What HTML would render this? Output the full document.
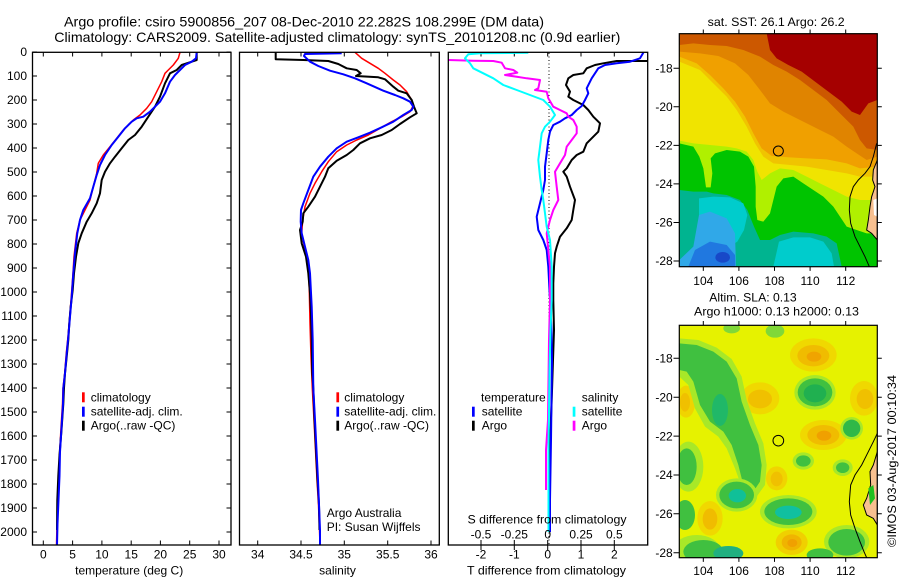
<!DOCTYPE html>
<html><head><meta charset="utf-8"><style>
html,body{margin:0;padding:0;background:#fff;}
svg{display:block;}
text{font-family:"Liberation Sans",Arial,sans-serif;fill:#000;}
</style></head><body>
<svg width="900" height="580" viewBox="0 0 900 580" xmlns="http://www.w3.org/2000/svg">
<rect x="0" y="0" width="900" height="580" fill="#fff"/>
<defs>
<clipPath id="c1"><rect x="58" y="100" width="594" height="700"/></clipPath>
<clipPath id="c2"><rect x="58" y="121" width="594" height="697"/></clipPath>
</defs>

<!-- Titles -->
<text x="64" y="26.5" font-size="14" textLength="480" lengthAdjust="spacingAndGlyphs">Argo profile: csiro 5900856_207 08-Dec-2010 22.282S 108.299E (DM data)</text>
<text x="54.3" y="42" font-size="14" textLength="566" lengthAdjust="spacingAndGlyphs">Climatology: CARS2009. Satellite-adjusted climatology: synTS_20101208.nc (0.9d earlier)</text>

<!-- ============ PANEL 1 ============ -->
<g stroke="#000" stroke-width="1">
<path d="M32.5,52h4.5M32.5,76h4.5M32.5,100h4.5M32.5,124h4.5M32.5,148h4.5M32.5,172h4.5M32.5,196h4.5M32.5,220h4.5M32.5,244h4.5M32.5,268h4.5M32.5,292h4.5M32.5,316h4.5M32.5,340h4.5M32.5,364h4.5M32.5,388h4.5M32.5,412h4.5M32.5,436h4.5M32.5,460h4.5M32.5,484h4.5M32.5,508h4.5M32.5,532h4.5"/>
<path d="M231,52h-4.5M231,76h-4.5M231,100h-4.5M231,124h-4.5M231,148h-4.5M231,172h-4.5M231,196h-4.5M231,220h-4.5M231,244h-4.5M231,268h-4.5M231,292h-4.5M231,316h-4.5M231,340h-4.5M231,364h-4.5M231,388h-4.5M231,412h-4.5M231,436h-4.5M231,460h-4.5M231,484h-4.5M231,508h-4.5M231,532h-4.5"/>
<path d="M43.3,52v4.5M72.6,52v4.5M101.9,52v4.5M131.2,52v4.5M160.4,52v4.5M189.7,52v4.5M219,52v4.5"/>
<path d="M43.3,545v-4.5M72.6,545v-4.5M101.9,545v-4.5M131.2,545v-4.5M160.4,545v-4.5M189.7,545v-4.5M219,545v-4.5"/>
</g>
<g font-size="12" text-anchor="end">
<text x="27" y="56.2">0</text><text x="27" y="80.2">100</text><text x="27" y="104.2">200</text><text x="27" y="128.2">300</text><text x="27" y="152.2">400</text><text x="27" y="176.2">500</text><text x="27" y="200.2">600</text><text x="27" y="224.2">700</text><text x="27" y="248.2">800</text><text x="27" y="272.2">900</text><text x="27" y="296.2">1000</text><text x="27" y="320.2">1100</text><text x="27" y="344.2">1200</text><text x="27" y="368.2">1300</text><text x="27" y="392.2">1400</text><text x="27" y="416.2">1500</text><text x="27" y="440.2">1600</text><text x="27" y="464.2">1700</text><text x="27" y="488.2">1800</text><text x="27" y="512.2">1900</text><text x="27" y="536.2">2000</text>
</g>
<g font-size="12" text-anchor="middle">
<text x="43.3" y="558.5">0</text><text x="72.6" y="558.5">5</text><text x="101.9" y="558.5">10</text><text x="131.2" y="558.5">15</text><text x="160.4" y="558.5">20</text><text x="189.7" y="558.5">25</text><text x="219" y="558.5">30</text>
<text x="129.2" y="574.5">temperature (deg C)</text>
</g>
<g fill="none" stroke-linejoin="round">
<polyline stroke="#f00" stroke-width="1.5" points="180,52.3 178.3,58.3 173.3,65 168.3,70 165,73.3 161.7,81.7 156.7,91.7 151.7,101.7 146.7,108.3 140,115 133.3,120 130,123.3 123.3,130 116.7,138.3 110,146.7 103.3,155 98.3,163.3 96.7,173.3 93.3,186.7 90,200 85,210 80,220 76.7,233.3 74,256.7 73,273.3 71.3,296.7 69.7,316.7 68,336.7 66.3,353.3 64.7,373.3 63,388.3 62.5,404 61,428 59.7,452 59,476 58,500 57,524 56.5,545"/>
<polyline stroke="#000" stroke-width="2" points="196.7,52.3 196.7,60 191.7,61.7 181.7,65 176.7,70 170,73.3 165,83.3 160,96.7 155,106.7 148.3,116.7 141.7,126.7 135,135 128.3,140 121.7,148.3 115,156.7 110,163.3 105,171.7 101.7,180 100,193.3 96.7,203.3 91.7,213.3 86.7,221.7 81.7,233.3 78.3,243.3 76,256.7 74,273.3 72.7,290 70.7,306.7 69.3,323.3 68.3,340 66.7,356.7 65,373.3 64,388 63.3,404 61.5,430 59.5,455 58.3,476 57.3,500 57,530"/>
<polyline stroke="#00f" stroke-width="2" points="196.7,52.3 196,58.3 191.7,61.7 185,65 180,70 175,75 170,81.7 165,93.3 160,101.7 155,106.7 150,111.7 143.3,116.7 136.7,118.3 131.7,121.7 125,128.3 118.3,136.7 111.7,145 105,155 100,165 96.7,175 93.3,186.7 90,198.3 83.3,210 80,220 77.3,233.3 75,253.3 73.3,273.3 71.7,296.7 70,316.7 68.3,336.7 66.7,353.3 65,373.3 63.3,388.3 63,404 61.5,428 60,452 59.5,476 58.5,500 57.5,524 57,545"/>
</g>
<rect x="32.5" y="52.3" width="198.5" height="492.7" fill="none" stroke="#000" stroke-width="1.3"/>
<rect x="82" y="392.3" width="2.7" height="10" fill="#f00"/>
<rect x="82" y="406.7" width="2.7" height="10" fill="#00f"/>
<rect x="82" y="420.7" width="2.7" height="10" fill="#000"/>
<g font-size="12">
<text x="90.7" y="401.3">climatology</text>
<text x="90.7" y="415.7">satellite-adj. clim.</text>
<text x="90.7" y="429.7">Argo(..raw -QC)</text>
</g>

<!-- ============ PANEL 2 ============ -->
<g stroke="#000" stroke-width="1">
<path d="M257.7,52v4.5M301,52v4.5M344.3,52v4.5M387.7,52v4.5M431,52v4.5"/>
<path d="M257.7,545v-4.5M301,545v-4.5M344.3,545v-4.5M387.7,545v-4.5M431,545v-4.5"/>
</g>
<g font-size="12" text-anchor="middle">
<text x="257.7" y="558.5">34</text><text x="301" y="558.5">34.5</text><text x="344.3" y="558.5">35</text><text x="387.7" y="558.5">35.5</text><text x="431" y="558.5">36</text>
<text x="337.5" y="574.5">salinity</text>
</g>
<g fill="none" stroke-linejoin="round">
<polyline stroke="#f00" stroke-width="1.5" points="355,52.3 361.7,58.3 370,63.3 378.3,68.3 385,73.3 393.3,80 400,85 406.7,91.7 411.7,100 412.7,106.7 410,111.7 401.7,116.7 391.7,121.7 380,128.3 368.3,135 356.7,140 346.7,145 336.7,151.7 328.3,161.7 321.7,171.7 315,183.3 310,193.3 305,206.7 302.7,220 301.7,233.3 305,250 308.3,266.7 309.3,290 310,323.3 311,356.7 312.3,388.3 314,420 315.5,450 317,480 318.5,505 319.5,530 320,545"/>
<polyline stroke="#000" stroke-width="2" points="275.7,52.3 275.7,59.3 303.3,60 328.3,61 338.3,64 346.7,68.3 356.7,70 360.7,73.3 356,76 378.3,77.3 385,79.3 393.3,86.7 398.3,90.7 406.7,93.3 411.7,100 414,106.7 416.7,113.3 410,117.3 400,124 391.7,130 381.7,135 370,138.3 360,143.3 353.3,150 346.7,155 336.7,160.7 328.3,168.3 325,176.7 320,186.7 315,196.7 308.3,206.7 303.3,213.3 302.7,221.7 300,230 301.7,243.3 306,256.7 308.3,273.3 310,293.3 311,313.3 311.7,340 312.3,373.3 313.3,388.3 314.5,420 316,450 317.5,480 319,505 319.5,530"/>
<polyline stroke="#00f" stroke-width="2" points="341.7,53.3 305,54 304,56 310,61.7 318.3,66 330,70.7 343.3,74.3 355,78.3 366.7,83.3 383.3,90.7 395,95 403.3,98.3 410,101.7 413.3,106.7 411.7,110 403.3,115 393.3,121.7 381.7,127.3 370,132.7 358.3,137.3 346.7,141.7 336.7,148.3 328.3,156.7 320,166.7 313.3,176.7 308.3,190 303.3,203.3 301,210 300.7,221.7 301.7,233.3 305,246.7 308.3,260 310,273.3 311.7,306.7 312.7,340 313.3,388.3 315,420 316.5,450 318,480 319,505 320,530 320,545"/>
</g>
<rect x="239.5" y="52.3" width="199.8" height="492.7" fill="none" stroke="#000" stroke-width="1.3"/>
<rect x="336.4" y="392.3" width="2.7" height="10" fill="#f00"/>
<rect x="336.4" y="406.7" width="2.7" height="10" fill="#00f"/>
<rect x="336.4" y="420.7" width="2.7" height="10" fill="#000"/>
<g font-size="12">
<text x="344.3" y="401.3">climatology</text>
<text x="344.3" y="415.7">satellite-adj. clim.</text>
<text x="344.3" y="429.7">Argo(..raw -QC)</text>
<text x="326.7" y="517">Argo Australia</text>
<text x="326.7" y="531">PI: Susan Wijffels</text>
</g>

<!-- ============ PANEL 3 ============ -->
<line x1="549" y1="53" x2="549" y2="545" stroke="#000" stroke-width="1" stroke-dasharray="1,2.5"/>
<g stroke="#000" stroke-width="1">
<path d="M481,52v4.5M514.3,52v4.5M547.7,52v4.5M581,52v4.5M614.3,52v4.5"/>
<path d="M481,540v10M514.3,540v10M547.7,540v10M581,540v10M614.3,540v10"/>
</g>
<g fill="none" stroke-linejoin="round" stroke-width="2">
<polyline stroke="#000" points="648,61 626.7,61 616.7,61 603.3,63.3 595,65 586.7,68.3 583.3,73.3 573.3,75 568.3,78.3 566,85 570,91.7 568.3,96.7 573.3,100 583.3,105 588.3,110 593.3,116.7 600,123.3 598.3,131.7 593.3,136.7 586.7,143.3 583.3,151.7 576.7,155 571.7,160 566.7,168.3 563.3,171.7 566.7,176.7 570,186.7 575,200 573.3,210 571.7,220 566.7,228.3 560,236.7 556.7,246.7 555,253.3 554,266.7 553.3,283.3 553.3,300 554,330 553,360 551.7,400 550.5,430 550,470 549.7,505"/>
<polyline stroke="#00f" points="643.3,52.7 640,58.3 630,61.7 616.7,63.3 605,65 598.3,68.3 595,73.3 591.7,78.3 590,81.7 586.7,88.3 588.3,93.3 585,100 581.7,106 576.7,110 571.7,115 565,118.3 560,121.7 553.3,125 550,131.7 548.3,140 546.7,153.3 545,166.7 545,180 543.3,190 540,203.3 536.7,216.7 538.3,230 543.3,240 546.7,250 548.3,266.7 550,300 551.5,330 552,360 551.5,400 551,440 550.5,470 550,500 550,532"/>
<polyline stroke="#f0f" points="448.3,60 473.3,60.7 493.3,61 501.7,62.7 505,68.3 513.3,70 517.3,72.7 505,75 516.7,76.7 526.7,78.3 540,80 538.3,88.3 535,90 546.7,91.7 548.3,98.3 553.3,106.7 560,110 566.7,113.3 568.3,116.7 573.3,120 576.7,126.7 576.7,133.3 571.7,140 566.7,146.7 565,155 560,163.3 555,171.7 556.7,186.7 558.3,200 553.3,210 550,220 548.3,226.7 546.7,233.3 548.3,250 550,266.7 550,300 549,340 548.5,380 548,420 546,450 546,490"/>
<polyline stroke="#0ff" points="528.3,52.7 480,53.3 468.3,54.3 465,58.3 470,63.3 473.3,68.3 483.3,73.3 493.3,78.3 503.3,85 516.7,90 530,95 543.3,100 550,106.7 555,115 550,121.7 545,126.7 541.7,133.3 540,146.7 538.3,160 540,176.7 541.7,190 543.3,200 545,213.3 546.7,226.7 550,240 551.7,266.7 551.7,300 550.5,330 549.5,370 549,410 548.5,450 548.5,500 548.5,532"/>
</g>
<rect x="448.3" y="52.3" width="199.4" height="492.7" fill="none" stroke="#000" stroke-width="1.3"/>
<rect x="472" y="406.7" width="2.7" height="10" fill="#00f"/>
<rect x="472" y="420.7" width="2.7" height="10" fill="#000"/>
<rect x="572.7" y="406.7" width="2.7" height="10" fill="#0ff"/>
<rect x="572.7" y="420.7" width="2.7" height="10" fill="#f0f"/>
<g font-size="12">
<text x="481" y="401.3">temperature</text>
<text x="481.7" y="415.7">satellite</text>
<text x="481.7" y="429.7">Argo</text>
<text x="581.7" y="401.3">salinity</text>
<text x="581.7" y="415.7">satellite</text>
<text x="581.7" y="429.7">Argo</text>
</g>
<g font-size="12" text-anchor="middle">
<text x="547" y="523.5" textLength="159" lengthAdjust="spacingAndGlyphs">S difference from climatology</text>
<text x="481" y="538.3">-0.5</text><text x="514.3" y="538.3">-0.25</text><text x="547.7" y="538.3">0</text><text x="581" y="538.3">0.25</text><text x="614.3" y="538.3">0.5</text>
<text x="481" y="558.5">-2</text><text x="514.3" y="558.5">-1</text><text x="547.7" y="558.5">0</text><text x="581" y="558.5">1</text><text x="614.3" y="558.5">2</text>
<text x="546.5" y="574.5" textLength="159" lengthAdjust="spacingAndGlyphs">T difference from climatology</text>
</g>

<!-- ============ MAP 1 (SST) ============ -->
<text x="707.7" y="26" font-size="12" textLength="137" lengthAdjust="spacingAndGlyphs">sat. SST: 26.1 Argo: 26.2</text>
<g transform="translate(660,0) scale(0.333333)">
<g clip-path="url(#c1)">
<rect x="58" y="100" width="594" height="700" fill="#00c400"/>
<polygon fill="#b0f000" points="58,100 652,100 652,700 620,700 590,690 560,680 540,650 520,620 490,590 460,570 430,550 400,530 370,535 350,560 340,600 330,640 310,665 292,660 287,620 287,560 282,500 265,470 240,455 200,450 165,460 152,475 157,520 152,562 138,562 130,505 118,470 100,440 58,430"/>
<polygon fill="#f0e400" points="58,100 652,100 652,600 600,600 560,590 520,570 480,550 440,530 400,510 360,505 330,520 305,540 292,515 280,480 260,455 230,445 200,440 100,430 58,422"/>
<polygon fill="#f0c400" points="58,100 652,100 652,530 600,530 560,520 500,510 440,500 390,495 340,490 310,470 285,430 260,380 230,330 200,290 160,250 120,210 58,185"/>
<polygon fill="#f0a000" points="58,100 652,100 652,500 600,505 560,490 500,478 440,475 390,472 335,468 305,445 280,400 255,350 225,305 190,265 150,225 110,190 58,170"/>
<polygon fill="#e08400" points="58,100 652,100 652,470 620,480 590,460 560,440 520,410 470,385 420,360 370,335 330,310 300,270 265,225 225,190 175,168 120,160 58,155"/>
<polygon fill="#cc5800" points="58,100 652,100 652,450 620,445 600,420 580,380 540,340 500,300 460,270 420,240 380,215 340,195 300,170 250,150 200,138 150,135 100,130 58,135"/>
<polygon fill="#a50000" points="320,100 652,100 652,300 625,310 600,345 575,335 545,305 505,275 465,245 425,215 385,195 350,175 330,150"/>
<polygon fill="#00b490" points="58,570 100,575 140,575 160,580 200,585 240,600 262,630 282,680 300,720 330,720 360,705 400,695 460,700 500,710 530,730 545,800 58,800"/>
<polygon fill="#00cccc" points="117,595 160,590 210,592 250,610 262,645 252,690 232,725 200,745 150,742 117,705"/>
<polygon fill="#00cccc" points="357,725 400,712 450,712 490,725 515,760 522,800 340,800"/>
<polygon fill="#30a8e8" points="117,645 150,635 200,655 225,700 228,800 58,800 58,780 100,740"/>
<polygon fill="#2078e0" points="105,750 150,725 200,735 225,765 226,800 85,800"/>
<ellipse cx="188" cy="772" rx="22" ry="16" fill="#1848c8"/>
<polygon fill="#f8c090" stroke="#000" stroke-width="3" points="652,480 640,510 638,540 645,560 635,590 630,620 625,660 620,690 635,700 652,720"/>
<polygon fill="#fff" points="640,600 652,595 652,650 642,645"/>
<polyline fill="none" stroke="#000" stroke-width="3" points="650,430 640,470 630,500 615,520 595,540 580,560 570,590 568,630 572,670 585,710 600,740 615,770 628,800"/>
</g>
<circle cx="355" cy="453" r="15" fill="none" stroke="#000" stroke-width="3"/>
</g>
<rect x="679.3" y="33.7" width="198" height="233" fill="none" stroke="#000" stroke-width="1.2"/>
<g stroke="#000" stroke-width="1">
<path d="M673.5,68.3h5.8M673.5,106.8h5.8M673.5,145.4h5.8M673.5,183.9h5.8M673.5,222.5h5.8M673.5,261h5.8"/>
<path d="M877.3,68.3h4.5M877.3,106.8h4.5M877.3,145.4h4.5M877.3,183.9h4.5M877.3,222.5h4.5M877.3,261h4.5"/>
<path d="M703.3,29.5v4.2M738.9,29.5v4.2M774.5,29.5v4.2M810.1,29.5v4.2M845.7,29.5v4.2"/>
<path d="M703.3,266.7v4.2M738.9,266.7v4.2M774.5,266.7v4.2M810.1,266.7v4.2M845.7,266.7v4.2"/>
</g>
<g font-size="12" text-anchor="end">
<text x="672.7" y="72.5">-18</text><text x="672.7" y="111">-20</text><text x="672.7" y="149.6">-22</text><text x="672.7" y="188.1">-24</text><text x="672.7" y="226.7">-26</text><text x="672.7" y="265.2">-28</text>
</g>
<g font-size="12" text-anchor="middle">
<text x="703.3" y="285">104</text><text x="738.9" y="285">106</text><text x="774.5" y="285">108</text><text x="810.1" y="285">110</text><text x="845.7" y="285">112</text>
</g>

<!-- ============ MAP 2 (SLA) ============ -->
<text x="709.3" y="301.5" font-size="12" textLength="87.4" lengthAdjust="spacingAndGlyphs">Altim. SLA: 0.13</text>
<text x="694" y="315.5" font-size="12" textLength="165" lengthAdjust="spacingAndGlyphs">Argo h1000: 0.13 h2000: 0.13</text>
<g transform="translate(660,285) scale(0.333333)">
<g clip-path="url(#c2)">
<rect x="58" y="121" width="594" height="697" fill="#e6f200"/>
<ellipse cx="460" cy="210" rx="70" ry="50" fill="#f0d800"/><ellipse cx="460" cy="212" rx="48" ry="32" fill="#f0bc00"/><ellipse cx="462" cy="215" rx="22" ry="15" fill="#f0a400"/>
<ellipse cx="300" cy="340" rx="58" ry="48" fill="#f0d800"/><ellipse cx="300" cy="342" rx="36" ry="28" fill="#f0c000"/>
<ellipse cx="490" cy="450" rx="70" ry="45" fill="#f0d800"/><ellipse cx="490" cy="450" rx="48" ry="30" fill="#f0bc00"/><ellipse cx="492" cy="452" rx="22" ry="15" fill="#f0a000"/>
<ellipse cx="612" cy="340" rx="42" ry="52" fill="#f0d800"/><ellipse cx="615" cy="342" rx="25" ry="30" fill="#f0c000"/>
<ellipse cx="150" cy="700" rx="38" ry="52" fill="#f0d800"/><ellipse cx="150" cy="702" rx="22" ry="32" fill="#f0bc00"/>
<ellipse cx="395" cy="772" rx="48" ry="38" fill="#f0d000"/><ellipse cx="395" cy="772" rx="30" ry="24" fill="#f0b400"/><ellipse cx="397" cy="774" rx="15" ry="12" fill="#f0a000"/>
<ellipse cx="350" cy="580" rx="32" ry="36" fill="#f0d400"/><ellipse cx="350" cy="582" rx="18" ry="22" fill="#f0c000"/>
<ellipse cx="78" cy="350" rx="28" ry="48" fill="#f0d400"/><ellipse cx="75" cy="352" rx="15" ry="28" fill="#f0c000"/>
<polygon fill="#a8e828" points="58,160 115,165 170,188 215,222 245,275 260,345 285,415 310,475 320,540 315,600 290,635 250,620 225,550 200,490 175,455 135,425 105,370 85,300 58,275"/>
<polygon fill="#40c040" points="58,175 110,180 160,200 200,230 230,280 245,350 270,420 295,480 305,540 300,590 280,620 250,600 235,540 215,480 190,440 150,410 120,360 100,290 80,260 58,255"/>
<ellipse cx="180" cy="375" rx="24" ry="48" fill="#20b868"/>
<ellipse cx="85" cy="545" rx="45" ry="75" fill="#a8e828"/><ellipse cx="80" cy="545" rx="30" ry="55" fill="#40c040"/>
<ellipse cx="75" cy="690" rx="30" ry="45" fill="#40c040"/>
<ellipse cx="230" cy="630" rx="62" ry="50" fill="#a8e828"/><ellipse cx="230" cy="630" rx="52" ry="40" fill="#40c040"/><ellipse cx="232" cy="632" rx="26" ry="20" fill="#10c098"/>
<ellipse cx="385" cy="680" rx="85" ry="50" fill="#a8e828"/><ellipse cx="385" cy="680" rx="72" ry="40" fill="#40c040"/><ellipse cx="385" cy="682" rx="40" ry="20" fill="#10c0a0"/>
<ellipse cx="465" cy="322" rx="62" ry="52" fill="#a8e828"/><ellipse cx="465" cy="322" rx="52" ry="42" fill="#40c040"/><ellipse cx="465" cy="325" rx="34" ry="27" fill="#20b050"/>
<ellipse cx="575" cy="430" rx="34" ry="34" fill="#a8e828"/><ellipse cx="575" cy="430" rx="26" ry="26" fill="#30b848"/>
<ellipse cx="430" cy="528" rx="32" ry="26" fill="#a8e828"/><ellipse cx="430" cy="528" rx="22" ry="17" fill="#40c040"/>
<ellipse cx="548" cy="548" rx="30" ry="25" fill="#a8e828"/><ellipse cx="548" cy="548" rx="20" ry="16" fill="#40c040"/>
<ellipse cx="110" cy="795" rx="70" ry="45" fill="#a8e828"/><ellipse cx="130" cy="800" rx="60" ry="35" fill="#40c040"/><ellipse cx="205" cy="805" rx="45" ry="22" fill="#20b080"/>
<ellipse cx="560" cy="770" rx="68" ry="50" fill="#a8e828"/><ellipse cx="560" cy="772" rx="55" ry="40" fill="#40c040"/>
<ellipse cx="480" cy="810" rx="40" ry="20" fill="#40c040"/>
<ellipse cx="215" cy="130" rx="25" ry="15" fill="#80d838"/>
<ellipse cx="345" cy="138" rx="28" ry="20" fill="#80d838"/>
<polygon fill="#f8c090" stroke="#000" stroke-width="3" points="652,500 640,540 630,560 632,600 620,640 610,660 620,690 640,700 652,720"/>
<polygon fill="#20c020" points="625,610 640,600 645,640 630,660"/>
<polyline fill="none" stroke="#000" stroke-width="3" points="652,445 640,470 625,500 605,540 585,570 572,600 568,650 572,690 585,730 600,770 612,800 620,818"/>
</g>
<circle cx="355" cy="467" r="16" fill="none" stroke="#000" stroke-width="3"/>
</g>
<rect x="679.3" y="325.3" width="198" height="232.4" fill="none" stroke="#000" stroke-width="1.2"/>
<g stroke="#000" stroke-width="1">
<path d="M673.5,358.3h5.8M673.5,397.2h5.8M673.5,436.1h5.8M673.5,475h5.8M673.5,513.8h5.8M673.5,552.7h5.8"/>
<path d="M877.3,358.3h4.5M877.3,397.2h4.5M877.3,436.1h4.5M877.3,475h4.5M877.3,513.8h4.5M877.3,552.7h4.5"/>
<path d="M703.3,321v4.2M738.9,321v4.2M774.5,321v4.2M810.1,321v4.2M845.7,321v4.2"/>
<path d="M703.3,557.7v4.2M738.9,557.7v4.2M774.5,557.7v4.2M810.1,557.7v4.2M845.7,557.7v4.2"/>
</g>
<g font-size="12" text-anchor="end">
<text x="672.7" y="362.5">-18</text><text x="672.7" y="401.4">-20</text><text x="672.7" y="440.3">-22</text><text x="672.7" y="479.2">-24</text><text x="672.7" y="518">-26</text><text x="672.7" y="556.9">-28</text>
</g>
<g font-size="12" text-anchor="middle">
<text x="703.3" y="575">104</text><text x="738.9" y="575">106</text><text x="774.5" y="575">108</text><text x="810.1" y="575">110</text><text x="845.7" y="575">112</text>
</g>

<text transform="translate(896,461) rotate(-90)" font-size="12" text-anchor="middle" textLength="172" lengthAdjust="spacingAndGlyphs">©IMOS 03-Aug-2017 00:10:34</text>
</svg>
</body></html>
